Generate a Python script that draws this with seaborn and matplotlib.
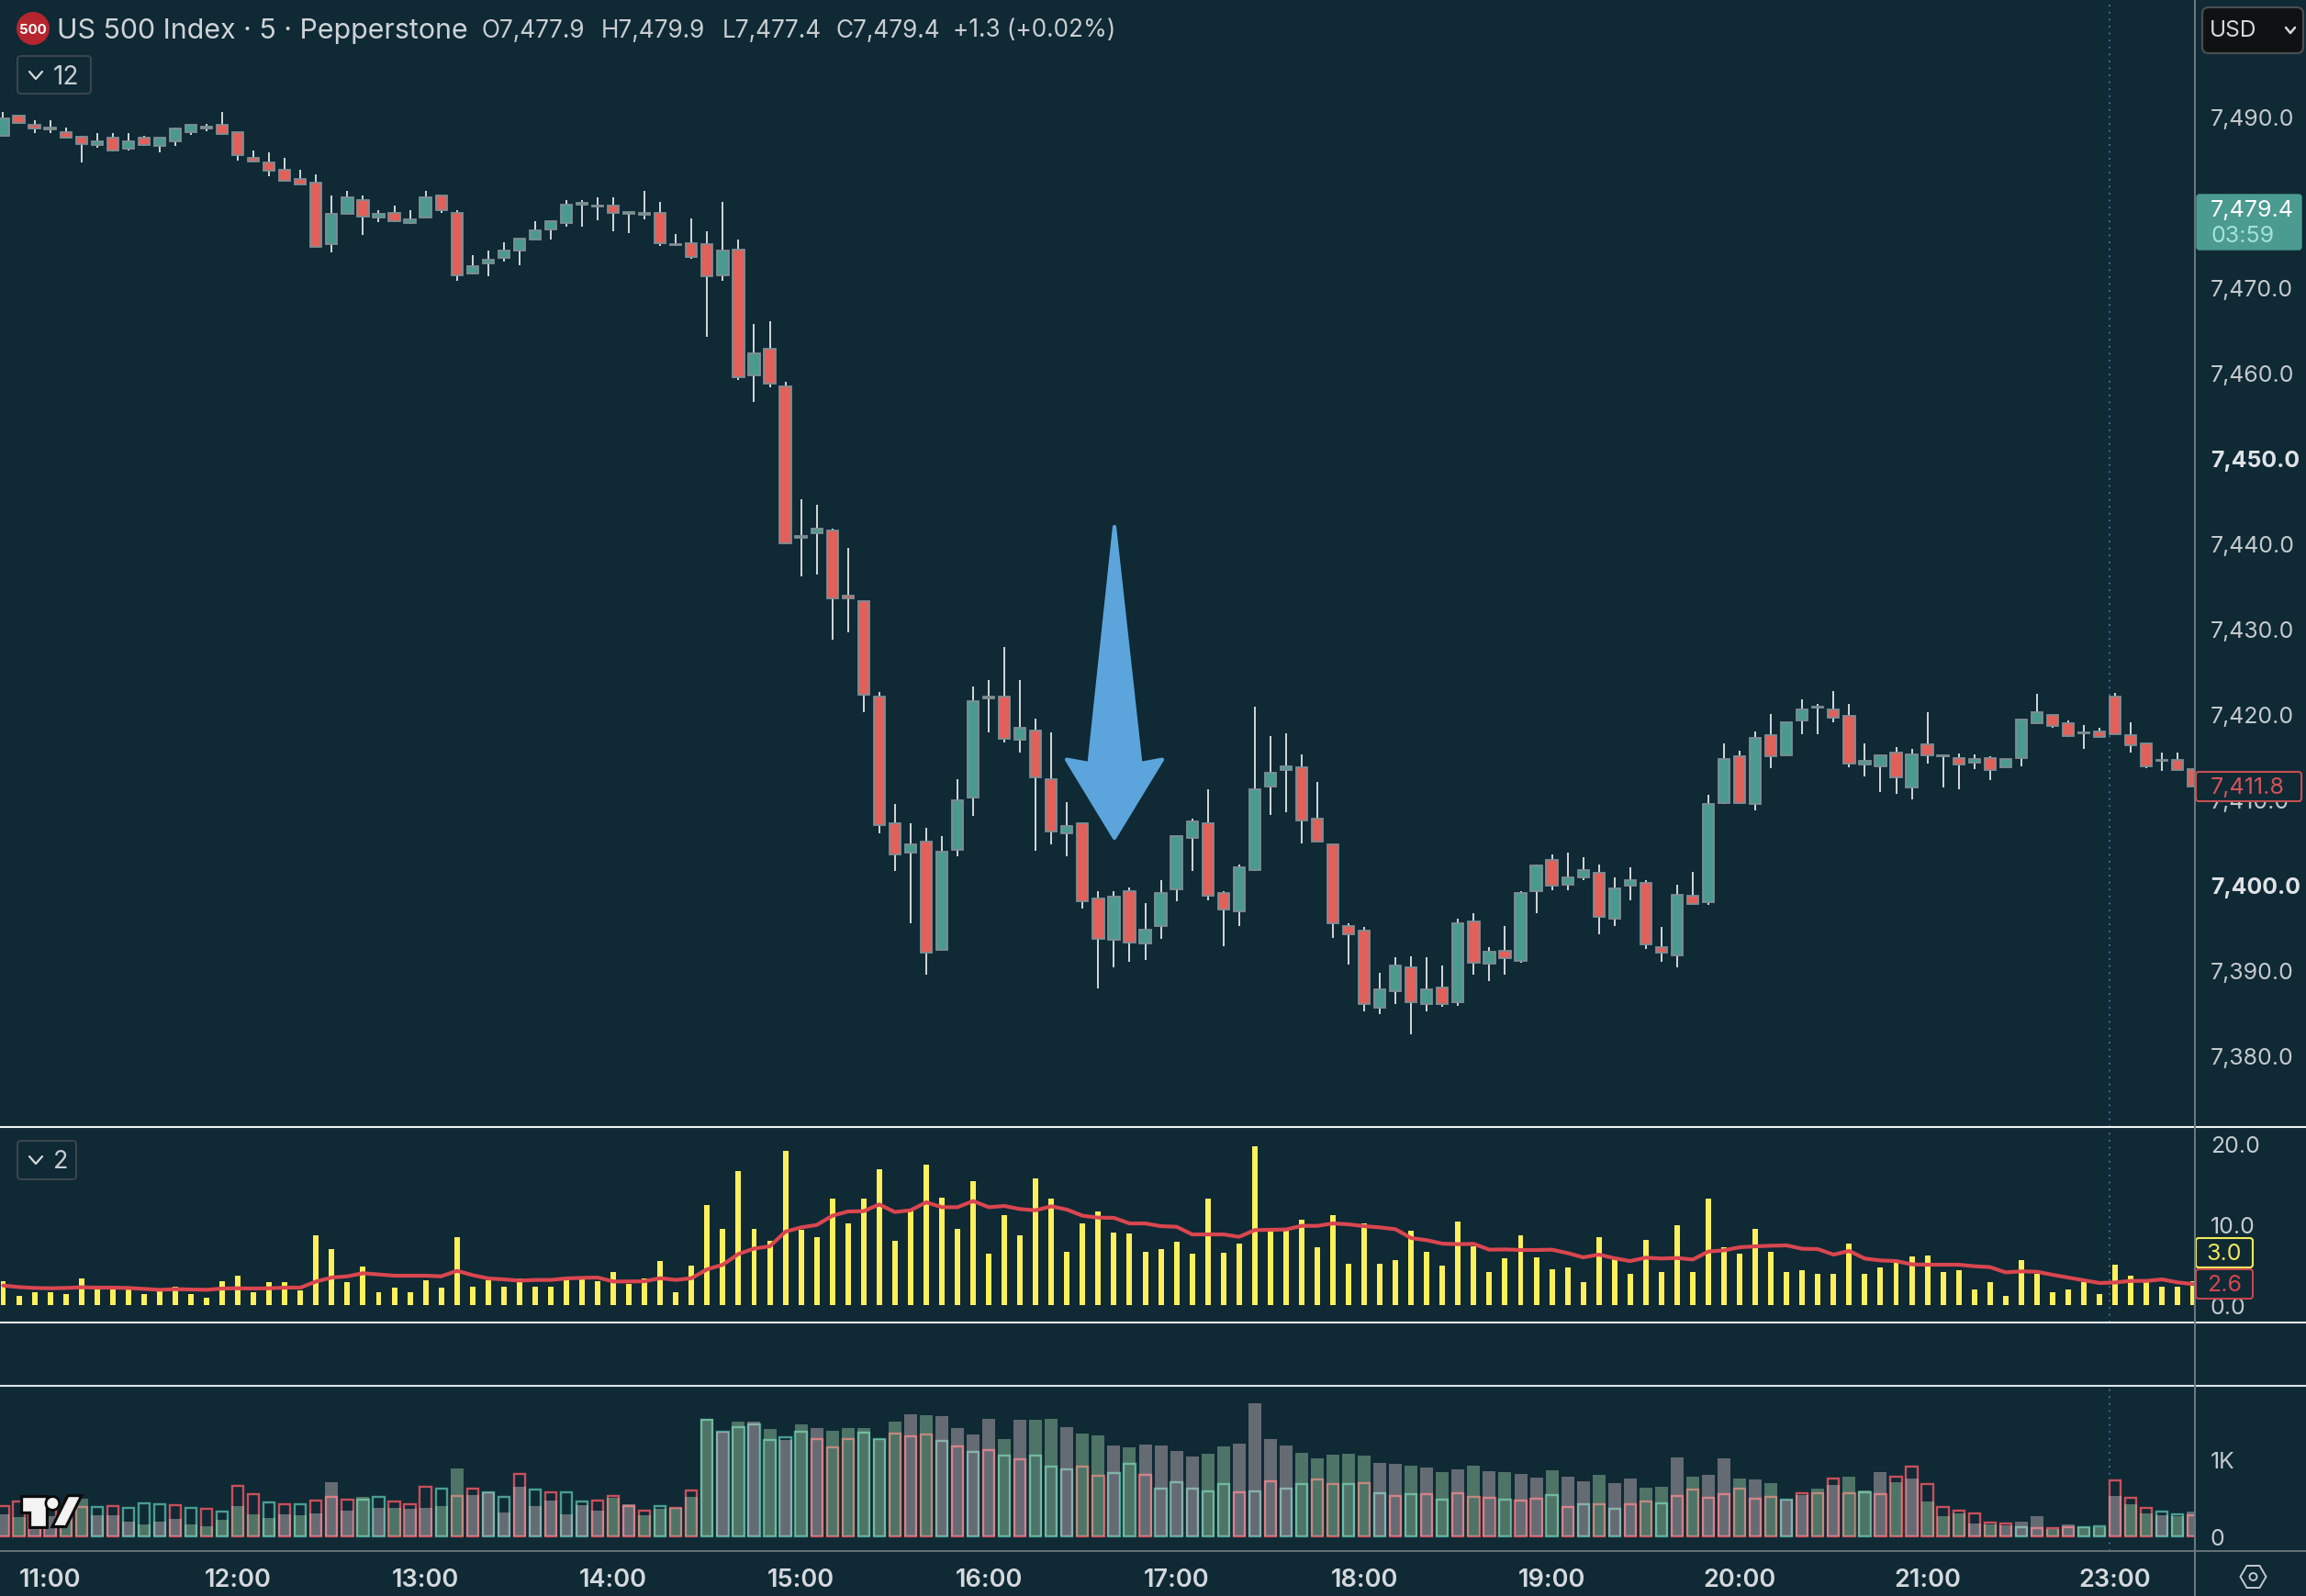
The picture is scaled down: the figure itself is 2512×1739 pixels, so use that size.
import numpy as np
import pandas as pd
import matplotlib
matplotlib.use("Agg")
import matplotlib.pyplot as plt
from matplotlib.patches import Polygon, FancyBboxPatch, Circle
from matplotlib.ticker import FuncFormatter
import matplotlib.patheffects as pe
import seaborn as sns

# ---------- data ----------
open_ = [7487.7,7490.1,7489.0,7488.7,7488.2,7487.6,7486.7,7487.5,7486.2,7487.5,
 7486.6,7487.1,7488.2,7488.6,7489.0,7488.2,7485.2,7484.6,7483.8,7482.7,
 7482.2,7475.0,7478.6,7480.2,7478.2,7478.7,7477.5,7478.2,7480.7,7478.7,
 7471.6,7472.8,7473.4,7474.3,7475.6,7476.8,7477.5,7479.7,7479.5,7479.6,
 7478.6,7478.5,7478.7,7474.9,7475.2,7475.0,7471.4,7474.4,7459.7,7462.8,
 7458.4,7440.6,7441.2,7441.5,7433.9,7433.2,7422.0,7407.2,7403.7,7405.0,
 7392.4,7404.1,7410.2,7421.8,7422.0,7417.0,7418.1,7412.4,7406.0,7407.2,
 7398.4,7393.5,7399.2,7393.1,7395.1,7399.4,7405.5,7407.2,7399.0,7396.9,
 7401.7,7411.5,7413.4,7413.8,7407.7,7404.7,7395.2,7394.6,7385.6,7387.5,
 7390.3,7386.0,7387.9,7386.2,7395.7,7390.7,7392.2,7391.1,7399.2,7402.9,
 7400.0,7400.9,7401.4,7396.0,7399.9,7400.2,7392.7,7391.7,7398.7,7397.9,
 7409.6,7415.0,7409.4,7417.5,7415.2,7419.2,7420.7,7420.5,7419.8,7414.1,
 7413.9,7415.5,7411.4,7416.4,7415.0,7414.8,7414.3,7414.8,7413.7,7414.8,
 7418.9,7419.9,7418.9,7417.7,7417.9,7422.0,7417.5,7416.5,7414.5,7414.6,7413.5]
close = [7489.8,7489.2,7488.6,7488.5,7487.5,7486.8,7487.1,7486.0,7487.1,7486.7,
 7487.5,7488.6,7489.0,7488.8,7488.0,7485.5,7484.7,7483.7,7482.5,7482.0,
 7474.7,7478.6,7480.5,7478.3,7478.6,7477.7,7478.0,7480.5,7479.0,7471.4,
 7472.5,7473.2,7474.3,7475.7,7476.7,7477.7,7479.7,7479.9,7479.6,7478.7,
 7478.8,7478.7,7475.2,7475.1,7473.5,7471.3,7474.3,7459.5,7462.2,7458.7,
 7440.0,7440.8,7441.7,7433.5,7433.5,7422.2,7407.0,7403.5,7404.7,7392.0,
 7403.9,7409.9,7421.5,7422.0,7417.1,7418.4,7412.6,7406.2,7406.9,7398.1,
 7393.6,7398.6,7393.2,7394.7,7399.0,7405.7,7407.4,7398.7,7397.1,7402.0,
 7411.2,7413.1,7413.9,7407.5,7405.0,7395.5,7394.2,7386.0,7387.7,7390.5,
 7386.2,7387.7,7386.0,7395.5,7390.9,7392.1,7391.4,7399.0,7402.2,7399.9,
 7400.8,7401.7,7396.2,7399.6,7400.5,7393.0,7392.0,7398.8,7397.7,7409.4,
 7414.7,7409.6,7417.2,7415.0,7419.0,7420.5,7420.9,7419.6,7414.2,7414.5,
 7415.1,7412.6,7415.3,7415.2,7415.1,7414.1,7414.7,7413.4,7414.7,7419.3,
 7420.2,7418.6,7417.4,7417.8,7417.3,7417.6,7416.3,7413.9,7414.6,7413.4,7411.5]
high = [7490.5,7490.1,7489.6,7489.6,7488.7,7487.7,7488.1,7488.1,7488.1,7487.7,
 7487.5,7488.7,7489.0,7489.1,7490.5,7488.2,7486.0,7485.8,7485.2,7483.8,
 7483.2,7480.8,7481.3,7480.7,7479.0,7479.6,7479.0,7481.3,7480.7,7479.0,
 7473.8,7474.3,7475.3,7475.7,7477.7,7477.7,7480.2,7480.2,7480.5,7480.5,
 7478.8,7481.3,7480.0,7476.2,7478.1,7476.5,7480.0,7475.6,7465.7,7466.0,
 7458.9,7445.2,7444.5,7441.7,7439.5,7433.2,7422.6,7409.4,7407.2,7406.7,
 7405.7,7412.4,7423.2,7424.0,7427.8,7424.0,7419.5,7417.8,7409.7,7407.2,
 7399.2,7399.2,7399.7,7397.8,7400.5,7405.7,7407.7,7411.2,7399.2,7402.4,
 7420.9,7417.4,7417.7,7415.3,7412.0,7404.7,7395.5,7395.0,7389.7,7391.5,
 7391.6,7391.5,7390.5,7396.0,7396.7,7392.7,7395.2,7399.2,7402.4,7403.5,
 7403.8,7403.2,7402.4,7400.9,7402.0,7400.5,7395.0,7400.0,7401.5,7410.5,
 7416.5,7415.7,7418.0,7420.0,7419.0,7421.7,7421.2,7422.7,7421.2,7416.6,
 7415.2,7416.1,7415.9,7420.2,7415.3,7415.4,7415.3,7415.0,7414.7,7419.3,
 7422.4,7419.9,7419.2,7418.7,7418.4,7422.5,7419.0,7416.5,7415.5,7415.5,7413.5]
low = [7487.6,7489.1,7488.1,7488.1,7487.4,7484.6,7486.3,7485.9,7486.0,7486.6,
 7485.8,7486.6,7487.8,7488.3,7487.8,7484.8,7484.6,7483.0,7482.5,7482.0,
 7474.7,7474.1,7478.6,7476.1,7477.6,7477.6,7477.4,7478.2,7478.7,7470.8,
 7471.5,7471.3,7473.0,7472.6,7475.6,7475.6,7477.1,7477.1,7477.8,7476.6,
 7476.3,7478.0,7474.8,7474.8,7473.3,7464.2,7470.8,7459.1,7456.6,7458.3,
 7439.9,7436.1,7436.3,7428.7,7429.6,7420.2,7406.0,7401.6,7395.5,7389.5,
 7392.4,7403.3,7408.1,7417.8,7416.7,7415.5,7404.0,7404.7,7403.3,7397.2,
 7387.8,7390.3,7391.0,7391.2,7393.6,7398.0,7401.6,7398.2,7392.8,7395.1,
 7401.6,7408.2,7408.5,7404.8,7405.0,7393.7,7390.6,7385.1,7384.8,7386.0,
 7382.5,7385.1,7385.7,7385.8,7389.5,7388.7,7389.5,7390.8,7396.7,7399.3,
 7399.3,7400.5,7394.2,7395.1,7398.2,7392.5,7391.0,7390.3,7397.6,7397.6,
 7409.5,7409.5,7408.7,7413.6,7415.1,7417.6,7417.6,7419.0,7413.8,7412.7,
 7410.8,7410.6,7410.0,7414.2,7411.4,7411.2,7413.5,7412.3,7413.7,7413.9,
 7418.8,7418.4,7417.3,7415.9,7417.2,7417.6,7415.5,7413.6,7413.3,7413.4,7411.5]

osc_bars = [2.95,1.14,1.6,1.6,1.36,3.3,1.93,1.93,1.93,1.36,1.7,2.27,1.36,0.9,2.95,3.64,1.6,2.84,2.84,1.82,
 8.64,6.93,2.84,4.77,1.6,2.16,1.6,3.07,2.16,8.41,2.27,3.07,2.27,3.3,2.27,2.27,3.41,3.3,2.95,4.09,
 2.61,3.3,5.45,1.6,4.89,12.39,9.43,16.6,9.43,7.95,19.09,9.32,8.41,13.18,10.11,13.18,16.82,7.95,11.82,17.39,
 13.3,9.43,15.34,6.36,11.14,8.64,15.68,13.18,6.59,10.11,11.59,8.98,8.86,6.59,6.93,7.84,6.36,13.18,6.48,7.61,
 19.66,9.55,9.43,10.57,7.16,11.14,5.11,10.11,5.11,5.57,9.2,6.59,4.89,10.34,7.27,4.09,5.8,8.64,5.91,4.43,
 4.66,2.84,8.41,5.68,3.86,8.07,4.09,9.89,4.09,13.18,7.16,6.36,9.43,6.59,4.09,4.32,3.86,3.86,7.61,3.86,
 4.66,5.57,6.02,6.14,4.09,4.32,1.93,2.84,1.14,5.57,3.86,1.6,1.93,2.84,1.36,5.0,3.64,2.95,2.27,2.27,3.0]
osc_ma = [2.42,2.23,2.12,2.08,2.12,2.2,2.16,2.16,2.12,2.0,1.89,1.97,1.93,1.89,2.05,2.08,2.05,2.08,2.16,2.16,
 2.92,3.41,3.56,3.94,3.79,3.64,3.64,3.64,3.56,4.24,3.71,3.3,3.18,3.03,3.11,3.11,3.3,3.37,3.41,2.92,
 2.92,2.95,3.33,3.11,3.33,4.43,5.0,6.33,7.0,7.27,9.09,9.62,9.92,11.06,11.59,11.63,12.46,11.52,11.74,12.73,
 12.12,12.12,12.88,12.12,12.27,11.89,11.74,12.23,11.82,11.06,10.83,10.8,10.11,10.11,9.77,9.7,8.75,8.75,8.75,8.45,
 9.28,9.32,9.36,9.81,9.81,10.11,10.0,9.77,9.62,9.39,8.3,8.03,7.61,7.54,7.58,6.86,6.89,6.82,6.82,6.86,
 6.44,5.91,6.25,5.8,5.45,5.87,5.76,5.83,5.64,6.63,6.78,7.16,7.27,7.35,7.39,6.97,6.93,6.25,6.7,5.76,
 5.53,5.45,5.04,5.0,5.0,5.0,4.81,4.7,4.05,4.17,4.13,3.75,3.41,3.07,2.73,2.8,2.99,2.99,3.18,2.8,2.6]

vol_fill = [282,246,254,254,254,480,266,266,187,147,187,222,147,127,210,389,282,234,282,270,
 294,699,330,504,365,365,353,365,389,877,532,564,306,639,389,461,282,405,330,500,
 413,270,357,369,508,1524,1358,1485,1485,1390,1247,1445,1401,1366,1401,1401,1255,1485,1580,1568,
 1556,1401,1318,1521,1258,1509,1509,1521,1413,1330,1306,1175,1151,1187,1175,1104,1032,1068,1163,1199,
 1723,1258,1175,1080,1008,1056,1068,1044,949,937,913,889,830,865,913,842,830,806,758,854,
 770,711,794,687,746,627,639,1020,770,794,1008,746,734,687,476,536,615,663,770,596,
 830,703,750,453,262,298,167,151,143,187,258,95,151,119,119,520,417,298,270,262,314]
vol_fill_kind = ("g t g g t t g g g t g g t t t t t t g t "
 "g g g t g t g g t t g g g g g g g g g t "
 "g t t t t t g t g t g t g t t t t t g t "
 "g g g g t g t t g t t g t g g g g t t g "
 "g g g t t t t t g g t g t g t g t g g t "
 "g g t g g t t g t g g t g t g g t g t t "
 "g t g t t t g t g g g t g t t g t t g t g").split()
vol_line = [393,445,373,373,353,373,381,393,369,429,417,401,369,353,322,655,548,441,417,417,
 464,512,472,472,512,453,417,643,619,524,619,564,512,810,607,572,572,453,464,524,
 389,333,393,369,596,1505,1358,1413,1453,1247,1286,1358,1262,1155,1262,1346,1255,1326,1298,1322,
 1239,1167,1096,1120,1048,1000,1048,905,869,905,786,822,941,798,619,703,619,584,679,572,
 584,715,619,679,738,679,679,691,560,524,548,548,476,560,512,500,476,464,488,536,
 381,417,417,357,417,453,429,524,607,500,548,619,488,512,476,560,560,750,560,572,
 548,774,905,679,381,333,294,175,163,119,103,107,119,119,131,727,500,369,322,286,274]
vol_line_kind = ("r r r r r r t r t t t r t r t r r t r t "
 "r r r t t r r r t r r t t r t r t t r r "
 "r r t r r t t t t t t t r r r t t r r r "
 "t r t r t r t t t r r t t r t t t t t r "
 "t r t t r r t r t r t r t r r r t r r t "
 "r t r t r r t r r r r r r r t r r r r t "
 "r r r r r r r r r t r r r t t r r r t t r").split()

price_ticks = [7490,7470,7460,7450,7440,7430,7420,7410,7400,7390,7380]
bold_ticks = [7450,7400]
time_idx = [3,15,27,39,51,63,75,87,99,111,123,135]
time_labels = ["11:00","12:00","13:00","14:00","15:00","16:00","17:00","18:00","19:00","20:00","21:00","23:00"]
session_break = 134.65

# ---------- style ----------
BG = "#0f2935"
sns.set_theme(style="dark", rc={"axes.facecolor": BG, "figure.facecolor": BG, "axes.grid": False})
plt.rcParams["font.family"] = ["Inter", "DejaVu Sans"]

W, H = 2512, 1740
fig = plt.figure(figsize=(W/100, H/100), dpi=100, facecolor=BG)
def add_ax(top, bottom):
    a = fig.add_axes([0, 1-bottom/H, 2391/W, (bottom-top)/H], facecolor=BG)
    for s in a.spines.values():
        s.set_visible(False)
    return a
ax1 = add_ax(0, 1229)
ax2 = add_ax(1229, 1442)
ax3 = add_ax(1511, 1691)

n = len(close)
idx = np.arange(n)
XLIM = (-0.205, 140.1)

# ---------- candles ----------
TEAL, RED = "#4a9a90", "#e2605a"
o, c = np.array(open_), np.array(close)
cols = [TEAL if b >= a else RED for a, b in zip(o, c)]
ax1.vlines(idx, low, high, color="white", lw=1.15, zorder=2)
ax1.bar(idx, np.abs(c-o), bottom=np.minimum(o, c), width=0.72, color=cols,
        edgecolor="#7f8e93", linewidth=1.3, zorder=3)
ax1.set_ylim(7371.6, 7503.76)
ax1.set_xlim(*XLIM)
ax1.set_xticks([])
ax1.yaxis.tick_right()
ax1.set_yticks(price_ticks)
ax1.yaxis.set_major_formatter(FuncFormatter(lambda v, p: f"{v:,.1f}"))
ax1.tick_params(axis="y", length=0, pad=12.2, labelsize=17.9, labelcolor="#c4cacd")
for lab, v in zip(ax1.get_yticklabels(), price_ticks):
    if v in bold_ticks:
        lab.set_fontweight("bold")
        lab.set_color("#dfe3e6")

# ---------- oscillator ----------
df2 = pd.DataFrame({"i": idx, "bars": osc_bars, "ma": osc_ma})
sns.barplot(data=df2, x="i", y="bars", native_scale=True, width=0.35, color="#fdf05a",
            saturation=1, errorbar=None, ax=ax2, linewidth=0, zorder=2)
sns.lineplot(data=df2, x="i", y="ma", color="#d9464f", lw=3.0, errorbar=None, ax=ax2, zorder=3)
ax2.set_ylim(-2.16, 22.05)
ax2.set_xlim(*XLIM)
ax2.set_xticks([])
ax2.set_xlabel(""); ax2.set_ylabel("")
ax2.yaxis.tick_right()
ax2.set_yticks([0, 10, 20])
ax2.set_yticklabels(["0.0", "10.0", "20.0"])
ax2.tick_params(axis="y", length=0, pad=12.2, labelsize=17.9, labelcolor="#c4cacd")

# ---------- volume ----------
df3 = pd.DataFrame({"i": idx, "fill": vol_fill, "fk": vol_fill_kind,
                    "line": vol_line, "lk": vol_line_kind})
sns.barplot(data=df3, x="i", y="line", hue="lk", native_scale=True, dodge=False, width=0.72,
            palette={"r": "#c94f5a", "t": "#4a9e90"}, saturation=1, errorbar=None,
            legend=False, ax=ax3, fill=False, linewidth=1.7, zorder=2)
sns.barplot(data=df3, x="i", y="fill", hue="fk", native_scale=True, dodge=False, width=0.82,
            palette={"g": (232/255, 208/255, 210/255), "t": (175/255, 228/255, 180/255)},
            saturation=1, errorbar=None, alpha=0.4,
            legend=False, ax=ax3, linewidth=0, zorder=3)
ax3.set_ylim(-194, 1949)
ax3.set_xlim(*XLIM)
ax3.set_xlabel(""); ax3.set_ylabel("")
ax3.yaxis.tick_right()
ax3.set_yticks([0, 1000])
ax3.set_yticklabels(["0", "1K"])
ax3.tick_params(axis="y", length=0, pad=12.2, labelsize=17.9, labelcolor="#c4cacd")
ax3.set_xticks(time_idx)
ax3.set_xticklabels(time_labels)
ax3.tick_params(axis="x", length=0, pad=13, labelsize=19.5, labelcolor="#d5d9dc")
for lab in ax3.get_xticklabels():
    lab.set_fontweight("semibold")

for a in (ax1, ax2, ax3):
    a.axvline(session_break, color="#3f76ad", lw=1.3, ls=(0, (1, 3.2)), zorder=1)

# ---------- overlay chrome (pixel coordinates) ----------
ov = fig.add_axes([0, 0, 1, 1], zorder=10)
ov.set_xlim(0, W); ov.set_ylim(H, 0); ov.axis("off"); ov.patch.set_alpha(0)

def T(x, y, s, px, color, ha="left", weight="normal", **kw):
    return ov.text(x, y, s, fontsize=px*0.72, color=color, ha=ha, va="center",
                   fontweight=weight, **kw)

def box(x0, y0, x1, y1, fc, ec, r=4, lw=1.5, z=5):
    ov.add_patch(FancyBboxPatch((x0+r, y0+r), x1-x0-2*r, y1-y0-2*r,
                                boxstyle=f"round,pad={r},rounding_size={r}",
                                fc=fc, ec=ec, lw=lw, zorder=z))

def chev(cx, cy, w, h, color, lw=1.6):
    ov.plot([cx-w, cx, cx+w], [cy-h, cy+h, cy-h], color=color, lw=lw, zorder=7,
            solid_capstyle="round", solid_joinstyle="round")

# separators
for y, col, lw in [(1229, "#f2f4f5", 1.5), (1442, "#f2f4f5", 1.5), (1511, "#dfe7ee", 1.5), (1691, "#6d797e", 1.3)]:
    ov.plot([0, W], [y, y], color=col, lw=lw, zorder=2)
ov.plot([2391, 2391], [0, H], color="#6f7a80", lw=1.4, zorder=6)

# arrow
ov.add_patch(Polygon([(1214, 575), (1242.4, 833), (1266, 828.6), (1214, 914), (1162, 828.6), (1186.6, 833)],
                     closed=True, fc="#5ba5dc", ec="#5ba5dc", lw=3, joinstyle="round", zorder=4))

# header
ov.add_patch(Circle((36, 32), 18, fc="#b5252d", ec="none", zorder=5))
T(36, 33, "500", 15, "white", ha="center", weight="bold", zorder=6)
T(62, 34.5, "US 500 Index · 5 · Pepperstone", 30.4, "#ced3d6")
for x, s in [(525, "O7,477.9"), (655, "H7,479.9"), (787, "L7,477.4"), (911, "C7,479.4"), (1038, "+1.3 (+0.02%)")]:
    T(x, 33.5, s, 26.2, "#c9ced1")

# collapse buttons
box(19, 62, 99, 103, BG, "#3b464c")
chev(39, 83, 7, 4, "#d5d9dc")
T(58, 84, "12", 28, "#c9ced1", zorder=7)
box(19, 1244, 83, 1286, BG, "#3b464c")
chev(39, 1265, 7, 4, "#d5d9dc")
T(58, 1266, "2", 27, "#c9ced1", zorder=7)

# currency
box(2399, 9, 2509, 59, "#101112", "#4a4d50", r=7, lw=1.6)
T(2407, 34, "USD", 24.5, "#d5d7d9", zorder=7)
chev(2495, 34, 5, 3, "#d5d7d9", lw=1.8)

# last price tag
ov.add_patch(FancyBboxPatch((2393, 213), 114, 60, boxstyle="round,pad=0,rounding_size=3", fc="#4b9b90", ec="#4b9b90", lw=1, zorder=5))
T(2408, 229.5, "7,479.4", 25, "white", zorder=7)
T(2408, 257, "03:59", 25, "#a5e2d9", zorder=7)

# red price tag
box(2392, 842, 2507, 874, BG, "#c5504f", r=3, lw=1.5)
T(2408, 859, "7,411.8", 25, "#d2545a", zorder=7)

# oscillator tags
box(2392, 1350, 2454, 1382, BG, "#f2e85a", r=3, lw=1.5)
T(2423, 1367, "3.0", 25, "#f2e85a", ha="center", zorder=7)
box(2392, 1384, 2454, 1416, BG, "#c7444e", r=3, lw=1.5)
T(2423, 1401, "2.6", 25, "#d6474f", ha="center", zorder=7)

# settings icon
cx, cy = 2454.5, 1719
ov.add_patch(Polygon([(cx-14, cy), (cx-7, cy-12), (cx+7, cy-12), (cx+14, cy), (cx+7, cy+12), (cx-7, cy+12)],
                     closed=True, fc="none", ec="#c4cacd", lw=1.4, zorder=6))
ov.add_patch(Circle((cx, cy), 4, fc="none", ec="#c4cacd", lw=1.4, zorder=6))

# watermark logo
stroke = [pe.withStroke(linewidth=5, foreground="#0c0c0c")]
lx = lambda v: v/1.867
ly = lambda v: 1220+v/3
for poly in [
    [(46, 1238), (92, 1238), (92, 1328), (64, 1328), (64, 1280), (46, 1280)],
    [(112, 1328), (140, 1238), (160, 1238), (132, 1328)],
]:
    p = Polygon([(lx(a), ly(b)) for a, b in poly], closed=True, fc="#f3f3f3", ec="#f3f3f3", lw=0.5, zorder=8)
    p.set_path_effects(stroke)
    ov.add_patch(p)
d = Circle((lx(107), ly(1257)), 6, fc="#f3f3f3", ec="none", zorder=9)
d.set_path_effects([pe.withStroke(linewidth=4, foreground="#0c0c0c")])
ov.add_patch(d)

fig.savefig("out.png", dpi=100, facecolor=BG)
